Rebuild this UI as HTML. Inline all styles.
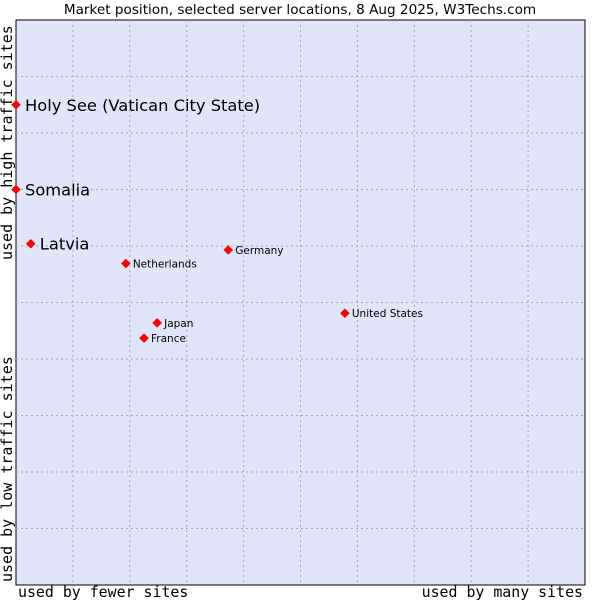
<!DOCTYPE html>
<html><head><meta charset="utf-8"><style>
body{margin:0;background:#fff;width:600px;height:600px;overflow:hidden}
svg{display:block}
</style></head><body>
<svg id="chart" width="600" height="600" xmlns="http://www.w3.org/2000/svg">
<rect x="0" y="0" width="600" height="600" fill="#fff"/>
<text x="300" y="14" text-anchor="middle" font-family="DejaVu Sans, Liberation Sans, sans-serif" font-size="13.6" fill="#000">Market position, selected server locations, 8 Aug 2025, W3Techs.com</text>
<rect x="16" y="20" width="569" height="565" fill="#e2e4f8" stroke="#000" stroke-width="1"/>
<g id="grid"></g>
<text x="18" y="597" font-family="DejaVu Sans Mono, Liberation Mono, monospace" font-size="14.9">used by fewer sites</text>
<text x="583" y="597" text-anchor="end" font-family="DejaVu Sans Mono, Liberation Mono, monospace" font-size="14.9">used by many sites</text>
<text transform="translate(12,582) rotate(-90)" font-family="DejaVu Sans Mono, Liberation Mono, monospace" font-size="15">used by low traffic sites</text>
<text transform="translate(12,260) rotate(-90)" font-family="DejaVu Sans Mono, Liberation Mono, monospace" font-size="15">used by high traffic sites</text>
<g id="points"></g>
</svg>
<script>
const names=["Holy See (Vatican City State)","Somalia","Latvia","Netherlands","Germany","United States","Japan","France"];
const xVals=[0,0,0.26,1.93,3.73,5.78,2.48,2.25];
const yVals=[8.5,7.0,6.04,5.69,5.93,4.81,4.64,4.37];
const big=[true,true,true,false,false,false,false,false];
const X0=16,X1=585,Y0=585,Y1=20;
function sx(v){return X0+v*(X1-X0)/10;}
function sy(v){return Y0-v*(Y0-Y1)/10;}
const NS="http://www.w3.org/2000/svg";
const grid=document.getElementById('grid');
for(let i=1;i<10;i++){
 const lv=document.createElementNS(NS,'line');
 lv.setAttribute('x1',sx(i));lv.setAttribute('x2',sx(i));lv.setAttribute('y1',Y1);lv.setAttribute('y2',Y0);
 lv.setAttribute('stroke','#aaa');lv.setAttribute('stroke-dasharray','2,3');
 
 
 grid.appendChild(lv);
 const lh=document.createElementNS(NS,'line');
 lh.setAttribute('y1',sy(i));lh.setAttribute('y2',sy(i));lh.setAttribute('x1',X0);lh.setAttribute('x2',X1);
 lh.setAttribute('stroke','#aaa');lh.setAttribute('stroke-dasharray','2,3');
 
 
 grid.appendChild(lh);
}
const pts=document.getElementById('points');
names.forEach((n,i)=>{
 const x=sx(xVals[i]),y=sy(yVals[i]);
 const d=document.createElementNS(NS,'path');
 d.setAttribute('d',`M${x},${y-4.5}L${x+4.5},${y}L${x},${y+4.5}L${x-4.5},${y}Z`);
 d.setAttribute('fill','#f00');d.setAttribute('stroke','#a00');d.setAttribute('stroke-width','0.5');
 
 
 pts.appendChild(d);
 const t=document.createElementNS(NS,'text');
 t.setAttribute('x',x+(big[i]?9:7));t.setAttribute('y',y+(big[i]?6:4));
 t.setAttribute('font-family','DejaVu Sans, Liberation Sans, sans-serif');
 t.setAttribute('font-size',big[i]?'16.3':'10.5');
 t.textContent=n;
 
 
 pts.appendChild(t);
});
</script>
</body></html>
